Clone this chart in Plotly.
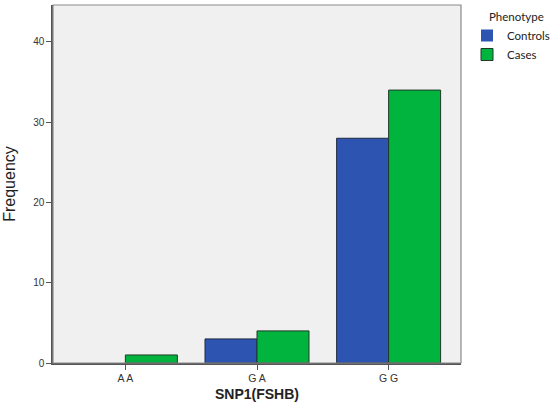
import plotly.graph_objects as go

categories = ["A A", "G A", "G G"]
controls = [0, 3, 28]
cases = [1, 4, 34]
y_ticks = [0, 10, 20, 30, 40]

fig = go.Figure()
fig.add_trace(go.Bar(x=categories, y=controls, name="Controls",
                     marker=dict(color="#2D54B0",
                                 line=dict(color="#1F2A40", width=[0 if v == 0 else 1 for v in controls]))))
fig.add_trace(go.Bar(x=categories, y=cases, name="Cases",
                     marker=dict(color="#00B43E",
                                 line=dict(color="#1F3A28", width=[0 if v == 0 else 1 for v in cases]))))

fig.update_layout(
    width=550, height=402,
    margin=dict(l=53, r=89, t=5, b=39, autoexpand=False),
    paper_bgcolor="white", plot_bgcolor="#F0F0F0",
    barmode="group", bargap=0.21, bargroupgap=0,
    font=dict(family="Liberation Sans, Arial", color="#333333"),
    showlegend=True,
    legend=dict(xref="container", yref="container", x=467 / 550, y=1 - 21 / 402,
                xanchor="left", yanchor="top",
                font=dict(size=11.5, family="Lato", color="#222222"),
                itemwidth=30, tracegroupgap=2, bgcolor="rgba(0,0,0,0)"),
    annotations=[
        dict(text="Phenotype", xref="paper", yref="paper",
             x=(487 - 53) / 408, y=(363 - 16) / 358, xanchor="left", yanchor="middle",
             showarrow=False, font=dict(size=11.5, family="Lato", color="#222222")),
        dict(text="<b>SNP1(FSHB)</b>", xref="paper", yref="paper",
             x=0.5, y=(363 - 394) / 358, xanchor="center", yanchor="middle",
             showarrow=False, font=dict(size=14, color="#222222")),
    ],
    shapes=[dict(type="rect", xref="paper", yref="paper", x0=0, x1=1, y0=0, y1=1,
                 line=dict(color="#8A8A8A", width=1.2), fillcolor="rgba(0,0,0,0)", layer="above")],
)
fig.update_xaxes(range=[-0.55, 2.55], automargin=False, showgrid=False, showline=True, linecolor="#555555",
                 linewidth=1.5, layer="above traces",
                 ticks="outside", ticklen=5, tickcolor="#555555", tickfont=dict(size=10.5, color="#333333"))
fig.update_yaxes(range=[0, 44.6], automargin=False, tickvals=y_ticks, showgrid=False, zeroline=False,
                 showline=True, layer="above traces",
                 linecolor="#555555", linewidth=1.5, ticks="outside", ticklen=5, tickcolor="#555555",
                 tickfont=dict(size=10, color="#333333"),
                 title=dict(text="Frequency", font=dict(size=16, color="#222222"), standoff=14))

fig.write_html("out.html", config={"displayModeBar": False},
               post_script="document.body.style.margin='0px';document.body.style.padding='0px';")
